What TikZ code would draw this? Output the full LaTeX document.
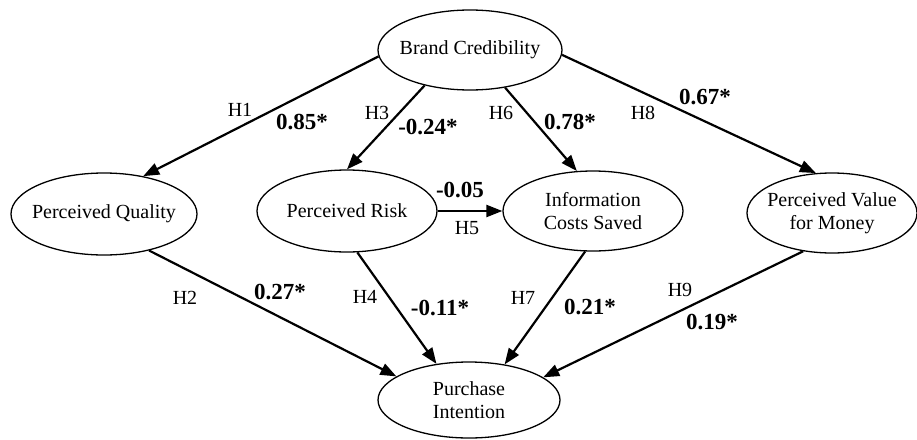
\documentclass[tikz,border=0pt]{standalone}
\usepackage{fontspec}
\setmainfont{Liberation Serif}
\usetikzlibrary{arrows.meta,shapes.geometric}
\begin{document}
\begin{tikzpicture}
  [x=1pt,y=-1pt,
  font=\fontsize{20}{23}\selectfont,
  construct/.style={draw,ellipse,line width=1.3pt,inner sep=0pt},
  effect/.style={-{Triangle[length=16pt,width=12pt]},line width=2.2pt},
  hyp/.style={},
  coef/.style={font=\fontsize{23}{25}\selectfont\bfseries}]

  \useasboundingbox (0,0) rectangle (917,439);

  \node[construct,minimum width=184,minimum height=80,label=center:Brand Credibility] (bc) at (470,50) {};
  \node[construct,minimum width=186,minimum height=82,label=center:Perceived Quality] (pq) at (104,214) {};
  \node[construct,minimum width=180,minimum height=82,label=center:Perceived Risk] (pr) at (347,211) {};
  \node[construct,minimum width=180,minimum height=80,label={[align=center]center:Information\\Costs Saved}] (ics) at (593,211) {};
  \node[construct,minimum width=170,minimum height=80,label={[align=center]center:Perceived Value\\for Money}] (pvm) at (832,213) {};
  \node[construct,minimum width=182,minimum height=76,label={[align=center]center:Purchase\\Intention}] (pi) at (469,400) {};

  \draw[effect] (bc.184) -- (pq.44);
  \draw[effect] (bc.218) -- (pr.90);
  \draw[effect] (bc.313) -- (ics.112);
  \draw[effect] (bc.357) -- (pvm.112);
  \draw[effect] (pr.east) -- (ics.west);
  \draw[effect] (pq.321) -- (pi.162);
  \draw[effect] (pr.284) -- (pi.132);
  \draw[effect] (ics.259) -- (pi.45);
  \draw[effect] (pvm.233) -- (pi.17);

  \node[hyp] (h1) at (240,110) {H1};
  \node[coef] (b1) at (302,122) {0.85*};
  \node[hyp] (h3) at (377,113) {H3};
  \node[coef] (b3) at (428,127) {-0.24*};
  \node[hyp] (h6) at (501,113) {H6};
  \node[coef] (b6) at (570,122) {0.78*};
  \node[hyp] (h8) at (643,113) {H8};
  \node[coef] (b8) at (705,97) {0.67*};
  \node[coef] (b5) at (460,190) {-0.05};
  \node[hyp] (h5) at (467,228) {H5};
  \node[hyp] (h2) at (185,298) {H2};
  \node[coef] (b2) at (280,292) {0.27*};
  \node[hyp] (h4) at (365,297) {H4};
  \node[coef] (b4) at (440,308) {-0.11*};
  \node[hyp] (h7) at (523,298) {H7};
  \node[coef] (b7) at (590,307) {0.21*};
  \node[hyp] (h9) at (680,290) {H9};
  \node[coef] (b9) at (712,322) {0.19*};

\end{tikzpicture}
\end{document}
